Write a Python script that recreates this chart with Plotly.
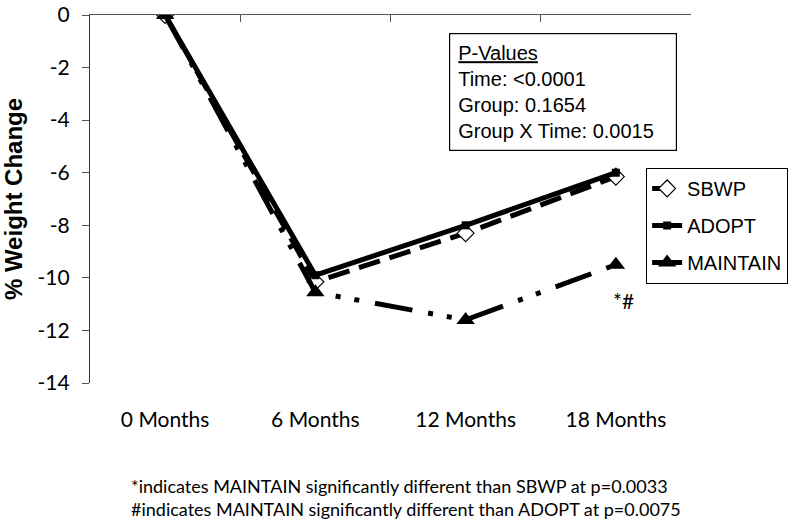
import plotly.graph_objects as go

categories = ["0 Months", "6 Months", "12 Months", "18 Months"]
sbwp = [0.0, -10.15, -8.3, -6.15]
adopt = [0.0, -9.9, -8.0, -6.0]
maintain = [0.0, -10.55, -11.6, -9.5]
y_ticks = [0, -2, -4, -6, -8, -10, -12, -14]
y_tick_labels = ["0", "-2", "-4", "-6", "-8", "-10", "-12", "-14"]
boundaries = [-0.5, 0.5, 1.5, 2.5, 3.5]

pvalue_text = ("<u>P-Values</u><br>Time: &lt;0.0001<br>Group: 0.1654<br>"
               "Group X Time: 0.0015")
footnote = ("*indicates MAINTAIN significantly different than SBWP at p=0.0033<br>"
            "#indicates MAINTAIN significantly different than ADOPT at p=0.0075")

fig = go.Figure()
fig.add_trace(go.Scatter(
    x=categories, y=sbwp, name="SBWP", mode="lines+markers", legendgroup="a",
    line=dict(color="black", width=5, dash="22px,10px"),
    marker=dict(symbol="diamond", size=13, color="white",
                line=dict(color="black", width=1.2)),
))
fig.add_trace(go.Scatter(
    x=categories, y=adopt, name="ADOPT", mode="lines+markers", legendgroup="b",
    line=dict(color="black", width=5),
    marker=dict(symbol="square", size=8, color="black"),
))
fig.add_trace(go.Scatter(
    x=categories, y=maintain, name="MAINTAIN", mode="lines+markers",
    legendgroup="c",
    line=dict(color="black", width=5, dash="38px,16px,5px,14px,5px,16px"),
    marker=dict(symbol="triangle-up", size=16, color="black"),
))
# invisible trace for the top axis
fig.add_trace(go.Scatter(x=[boundaries[0], boundaries[-1]], y=[None, None],
                         xaxis="x2", showlegend=False, hoverinfo="skip",
                         mode="lines"))

fig.update_layout(
    width=800, height=524,
    margin=dict(l=90, r=109, t=15, b=141, autoexpand=False),
    paper_bgcolor="white", plot_bgcolor="white",
    font=dict(family="Lato", size=21, color="black"),
    xaxis=dict(type="category", range=[-0.5, 3.5], showline=False,
               ticks="", showgrid=False, zeroline=False, automargin=False,
               ticklabelstandoff=22,
               tickfont=dict(family="Lato", size=21, color="black")),
    xaxis2=dict(overlaying="x", side="top", range=[-0.5, 3.5],
                showline=True, linecolor="#555", linewidth=1.3,
                ticks="inside", ticklen=7, tickcolor="#555",
                tickvals=boundaries, showticklabels=False, automargin=False,
                showgrid=False, zeroline=False),
    yaxis=dict(range=[-14, 0], tickvals=y_ticks, ticktext=y_tick_labels,
               showline=True, automargin=False,
               linecolor="#333", linewidth=1.3, ticks="outside",
               ticklen=7, tickcolor="#555", showgrid=False,
               zeroline=False, ticklabelstandoff=8,
               tickfont=dict(family="Lato", size=21, color="black"),
               title=dict(text="<b>% Weight Change</b>", standoff=10,
                          font=dict(family="Liberation Sans", size=24,
                                    color="black"))),
    legend=dict(x=0.925, y=0.585, xanchor="left", yanchor="top",
                bordercolor="black", borderwidth=1.2, bgcolor="white",
                font=dict(family="Liberation Sans", size=20, color="black"),
                itemwidth=30, traceorder="grouped", tracegroupgap=8),
    showlegend=True,
    annotations=[
        dict(text=pvalue_text, xref="paper", yref="paper", x=0.597, y=0.951,
             xanchor="left", yanchor="top", align="left", showarrow=False,
             width=210, height=100,
             bordercolor="black", borderwidth=1.2, borderpad=8,
             bgcolor="white",
             font=dict(family="Liberation Sans", size=20, color="black")),
        dict(text="*#", xref="x", yref="y", x=categories[3], y=-10.85,
             xshift=8, showarrow=False,
             font=dict(family="Lato", size=21, color="black")),
        dict(text=footnote, xref="paper", yref="paper", x=0.526, y=-0.31,
             xanchor="center", yanchor="middle", align="left",
             showarrow=False,
             font=dict(family="Lato", size=18, color="black")),
    ],
)

fig.write_html("out.html", config={"displayModeBar": False},
               post_script="document.body.style.margin='0px';")
